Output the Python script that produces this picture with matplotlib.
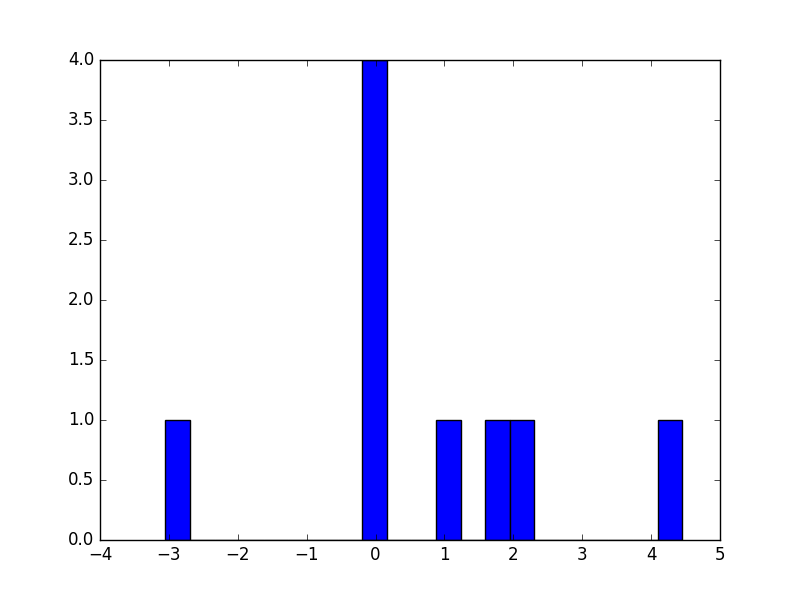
import matplotlib
matplotlib.use("Agg")
import matplotlib.pyplot as plt

values = [-3.05, 0.0, 0.0, 0.0, 0.0, 1.0, 1.8, 2.1, 4.45]
n_bins = 21

plt.style.use('classic')
fig, ax = plt.subplots(figsize=(8, 6), dpi=100)
ax.hist(values, bins=n_bins, color='blue', edgecolor='black')
ax.set_xlim(-4, 5)
ax.set_ylim(0, 4)
fig.savefig("out.png", dpi=100)
